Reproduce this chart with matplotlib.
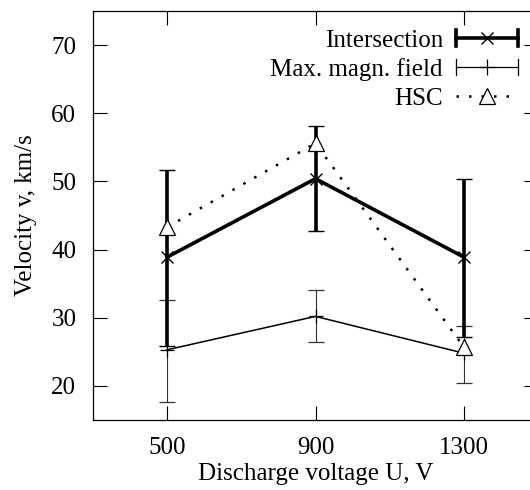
import numpy as np
import matplotlib
matplotlib.use("Agg")
import matplotlib.pyplot as plt
from matplotlib.lines import Line2D
from matplotlib.legend_handler import HandlerBase

plt.rcParams["font.family"] = ["Liberation Serif", "DejaVu Serif"]

# ------------------------------------------------------------
# Data
# ------------------------------------------------------------
voltage = [500, 900, 1300]

inter_v = [38.9, 50.4, 38.9]
inter_lo = [25.9, 42.7, 27.2]
inter_hi = [51.7, 58.2, 50.4]

magn_v = [25.3, 30.2, 24.8]
magn_lo = [17.7, 26.5, 20.4]
magn_hi = [32.6, 34.1, 28.8]

hsc_v = [43.3, 55.6, 25.7]

inter_err = [np.subtract(inter_v, inter_lo), np.subtract(inter_hi, inter_v)]
magn_err = [np.subtract(magn_v, magn_lo), np.subtract(magn_hi, magn_v)]

HSC_DOTS = (0, (1, 4))


# legend entry drawn as a horizontal error bar (line, end caps, marker)
class HandlerHBar(HandlerBase):
    def __init__(self, caps=True, ls="-", **kw):
        super().__init__(**kw)
        self.caps = caps
        self.ls = ls

    def create_artists(self, legend, orig, xdescent, ydescent, width, height,
                       fontsize, trans):
        y = height / 2 - ydescent
        x0, x1 = -xdescent, width - xdescent
        lw = orig.get_linewidth()
        arts = [Line2D([x0, x1], [y, y], color="black", lw=lw,
                       linestyle=self.ls, transform=trans)]
        if self.caps:
            h = 6
            for xx in (x0, x1):
                arts.append(Line2D([xx, xx], [y - h, y + h], color="black",
                                   lw=lw, transform=trans))
        arts.append(Line2D([(x0 + x1) / 2], [y], linestyle="none",
                           marker=orig.get_marker(),
                           markersize=orig.get_markersize(),
                           markerfacecolor=orig.get_markerfacecolor(),
                           markeredgecolor="black",
                           markeredgewidth=orig.get_markeredgewidth(),
                           transform=trans))
        return arts


# ------------------------------------------------------------
# Plot
# ------------------------------------------------------------
fig = plt.figure(figsize=(5.3, 4.9), dpi=100)
ax = fig.add_axes([93 / 530, 70 / 490, 445 / 530, 409 / 490])

ax.errorbar(voltage, inter_v, yerr=inter_err, color="black", linewidth=2.6,
            elinewidth=2.6, capsize=6, capthick=2.6, marker="x",
            markersize=9, markeredgewidth=1.0, zorder=3)
ax.errorbar(voltage, magn_v, yerr=magn_err, color="black", linewidth=1.1,
            elinewidth=0.8, ecolor="#333333", capsize=6, capthick=0.8,
            marker="+", markersize=10, markeredgewidth=0.9, zorder=2)
ax.plot(voltage, hsc_v, color="black", linestyle=HSC_DOTS, linewidth=1.8,
        marker="^", markersize=12, markerfacecolor="white",
        markeredgewidth=0.9, zorder=4)

ax.set_xlim(300, 1500)
ax.set_ylim(15, 75)
ax.set_xticks(voltage)
ax.set_yticks([20, 30, 40, 50, 60, 70])
ax.tick_params(direction="in", length=10, width=0.8, top=True, right=True,
               labelsize=18, pad=12)
for s in ax.spines.values():
    s.set_linewidth(0.9)

ax.set_xlabel("Discharge voltage U, V", fontsize=18, labelpad=3)
ax.set_ylabel("Velocity v, km/s", fontsize=18, labelpad=10)

h_inter = Line2D([], [], color="black", lw=2.6, marker="x", markersize=9,
                 markeredgewidth=1.0)
h_magn = Line2D([], [], color="black", lw=0.9, marker="+", markersize=12,
                markeredgewidth=0.9)
h_hsc = Line2D([], [], color="black", lw=1.8, marker="^", markersize=12,
               markerfacecolor="white", markeredgewidth=0.9)

ax.legend([h_inter, h_magn, h_hsc],
          ["Intersection", "Max. magn. field", "HSC"],
          handler_map={h_inter: HandlerHBar(),
                       h_magn: HandlerHBar(),
                       h_hsc: HandlerHBar(caps=False, ls=HSC_DOTS)},
          loc="upper right", bbox_to_anchor=(435 / 445, 0.98), frameon=False,
          markerfirst=False, fontsize=18, handlelength=2.5,
          labelspacing=0.25, borderaxespad=0, handletextpad=0.5)

fig.savefig("out.png", dpi=100)
